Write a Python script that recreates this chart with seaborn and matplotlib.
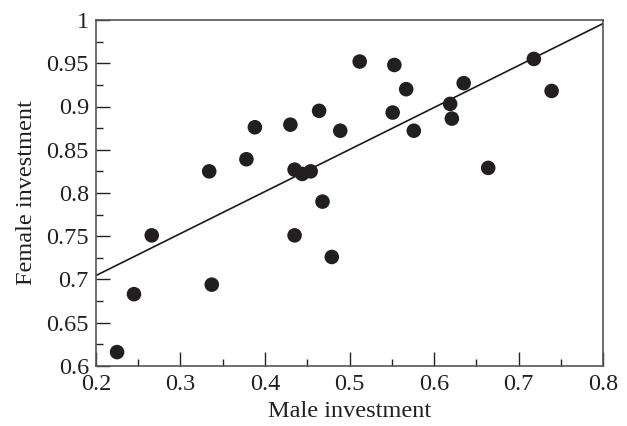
import matplotlib
matplotlib.use("Agg")
import matplotlib.pyplot as plt
import seaborn as sns
import pandas as pd
from matplotlib.ticker import MultipleLocator

male = [0.225, 0.245, 0.266, 0.334, 0.337, 0.378, 0.388, 0.430, 0.435, 0.435,
        0.444, 0.454, 0.464, 0.468, 0.479, 0.489, 0.512, 0.551, 0.553, 0.567,
        0.576, 0.619, 0.621, 0.635, 0.664, 0.718, 0.739]
female = [0.616, 0.683, 0.751, 0.825, 0.694, 0.839, 0.876, 0.879, 0.827, 0.751,
          0.822, 0.825, 0.895, 0.790, 0.726, 0.872, 0.952, 0.893, 0.948, 0.920,
          0.872, 0.903, 0.886, 0.927, 0.829, 0.955, 0.918]
fit_x = [0.2, 0.8]
fit_y = [0.7045, 0.996]
x_ticks = [0.2, 0.3, 0.4, 0.5, 0.6, 0.7, 0.8]
y_ticks = [0.6, 0.65, 0.7, 0.75, 0.8, 0.85, 0.9, 0.95, 1.0]
y_tick_labels = ["0.6", "0.65", "0.7", "0.75", "0.8", "0.85", "0.9", "0.95", "1"]

sns.set_style("white")
plt.rcParams["font.family"] = ["Liberation Serif", "DejaVu Serif"]

df = pd.DataFrame({"Male investment": male, "Female investment": female})
fit = pd.DataFrame({"x": fit_x, "y": fit_y})

fig = plt.figure(figsize=(6.27, 4.26), dpi=100)
ax = fig.add_axes([0.153, 0.141, 0.809, 0.812])

sns.lineplot(data=fit, x="x", y="y", ax=ax, color="#1a1a1a", linewidth=1.2)
sns.scatterplot(data=df, x="Male investment", y="Female investment", ax=ax,
                color="#231f20", s=110, edgecolor="none", linewidth=0, zorder=3)

ax.set_xlim(0.2, 0.8)
ax.set_ylim(0.6, 1.0)
ax.set_xticks(x_ticks)
ax.set_xticklabels([f"{v:g}" for v in x_ticks])
ax.set_yticks(y_ticks)
ax.set_yticklabels(y_tick_labels)
ax.xaxis.set_minor_locator(MultipleLocator(0.05))
ax.yaxis.set_minor_locator(MultipleLocator(0.025))

ax.tick_params(axis="both", which="major", direction="in", length=10, width=1,
               color="#222222", labelsize=17.5, labelcolor="#231f20", pad=5,
               bottom=True, left=True, top=False, right=False)
ax.tick_params(axis="both", which="minor", direction="in", length=5, width=1,
               color="#222222", bottom=True, left=True, top=False, right=False)
ax.tick_params(axis="x", which="major", pad=6)

for sp in ax.spines.values():
    sp.set_color("#555555")
    sp.set_linewidth(1.2)
    sp.set_visible(True)

ax.set_xlabel("Male investment", fontsize=17.5, color="#231f20", labelpad=4)
ax.set_ylabel("Female investment", fontsize=17.5, color="#231f20", labelpad=7)

fig.savefig("out.png", dpi=100)
